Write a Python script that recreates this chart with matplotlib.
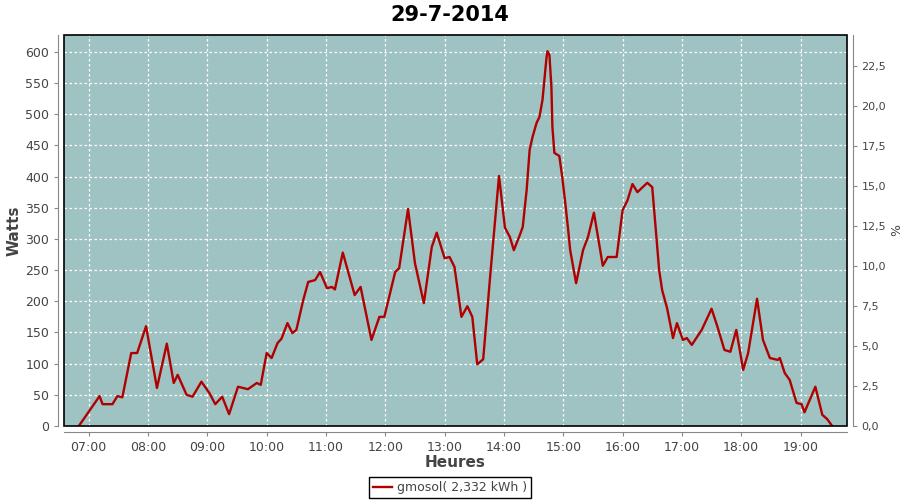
import numpy as np
import matplotlib
matplotlib.use("Agg")
import matplotlib.pyplot as plt
from matplotlib.ticker import FuncFormatter, MultipleLocator
from matplotlib.patches import Rectangle

# minutes since midnight and power in Watts
minutes = [410, 431, 434, 444, 449, 454, 463, 469, 478, 489, 499, 506, 510, 519, 525,
           534, 542, 548, 555, 562, 571, 581, 590, 594, 600, 605, 611, 615, 621, 626,
           630, 637, 642, 649, 654, 661, 666, 669, 677, 689, 695, 706, 714, 719, 730,
           734, 743, 750, 759, 767, 772, 780, 785, 790, 797, 803, 808, 813, 819, 826,
           835, 841, 846, 850, 856, 859, 863, 866, 869, 873, 876, 879, 883, 884, 886,
           888, 889, 891, 896, 899, 902, 905, 907, 913, 920, 925, 931, 940, 945, 954,
           960, 965, 970, 975, 985, 990, 993, 997, 1000, 1005, 1011, 1015, 1021, 1025, 1030,
           1040, 1050, 1056, 1063, 1069, 1075, 1082, 1087, 1093, 1096, 1102, 1109, 1117, 1119, 1124,
           1129, 1136, 1141, 1144, 1155, 1162, 1167, 1172]
watts = [0, 48, 35, 35, 48, 46, 117, 117, 160, 61, 132, 69, 82, 50, 47,
         71, 53, 35, 47, 19, 63, 59, 69, 66, 117, 109, 133, 140, 165, 149,
         154, 202, 231, 234, 247, 221, 223, 219, 278, 210, 223, 138, 175, 175, 247,
         253, 348, 261, 197, 287, 310, 269, 271, 255, 175, 192, 175, 99, 107, 239,
         401, 318, 303, 282, 306, 319, 379, 443, 464, 486, 496, 523, 590, 601, 595,
         544, 480, 438, 433, 399, 358, 314, 282, 229, 282, 303, 342, 257, 271, 271,
         346, 362, 388, 375, 390, 383, 326, 250, 218, 189, 141, 165, 138, 141, 130,
         154, 188, 159, 122, 119, 154, 90, 117, 175, 204, 138, 109, 106, 109, 85,
         74, 37, 35, 22, 63, 18, 11, 0]

hour_ticks = list(range(7 * 60, 20 * 60, 60))
hour_labels = ["%02d:00" % (m // 60) for m in hour_ticks]
title = "29-7-2014"
legend_label = "gmosol( 2,332 kWh )"

bg = "#9fc3c3"
txt = "#444444"
axis_gray = "#888888"

fig = plt.figure(figsize=(9, 5), dpi=100)
ax = fig.add_axes([64 / 900, 74 / 500, 783 / 900, 391 / 500])
ax.set_facecolor(bg)
ax.plot(minutes, watts, color="#b00000", linewidth=1.7, label=legend_label)

ax.set_xlim(395, 1187)
ax.set_ylim(0, 627)
ax.set_xticks(hour_ticks)
ax.set_xticklabels(hour_labels)
ax.yaxis.set_major_locator(MultipleLocator(50))
ax.grid(True, color="white", linestyle=(0, (2, 2)), linewidth=0.9)
ax.set_axisbelow(True)

for s in ["left", "bottom"]:
    ax.spines[s].set_position(("outward", 4))
    ax.spines[s].set_color(axis_gray)
ax.spines["top"].set_visible(False)
ax.spines["right"].set_visible(False)
ax.tick_params(colors=axis_gray, labelcolor=txt, labelsize=9, length=3)

# black plot border
ax.add_patch(Rectangle((0, 0), 1, 1, transform=ax.transAxes, fill=False,
                       edgecolor="black", linewidth=1.2, clip_on=False, zorder=5))

ax2 = ax.twinx()
ax2.set_ylim(0, 24.44)
ax2.yaxis.set_major_locator(MultipleLocator(2.5))
ax2.yaxis.set_major_formatter(FuncFormatter(lambda v, p: ("%.1f" % v).replace(".", ",")))
for s in ["left", "bottom", "top"]:
    ax2.spines[s].set_visible(False)
ax2.spines["right"].set_position(("outward", 4))
ax2.spines["right"].set_color(axis_gray)
ax2.tick_params(colors=axis_gray, labelcolor=txt, labelsize=8, length=3)

ax.set_ylabel("Watts", fontsize=11, fontweight="bold", color=txt)
ax.yaxis.set_label_coords(-0.054, 0.5)
ax.set_xlabel("Heures", fontsize=11, fontweight="bold", color=txt, labelpad=1)
ax2.set_ylabel("%", fontsize=9, color=txt, rotation=-90, labelpad=9)
fig.suptitle(title, fontsize=15, fontweight="bold", y=0.99)

leg = fig.legend(loc="lower center", bbox_to_anchor=(0.5, -0.008), fontsize=9,
                 fancybox=False, edgecolor="black", handlelength=1.5,
                 handletextpad=0.4, borderpad=0.3, framealpha=1)
leg.get_frame().set_linewidth(1.0)
for t in leg.get_texts():
    t.set_color(txt)

fig.savefig("out.png", dpi=100)
